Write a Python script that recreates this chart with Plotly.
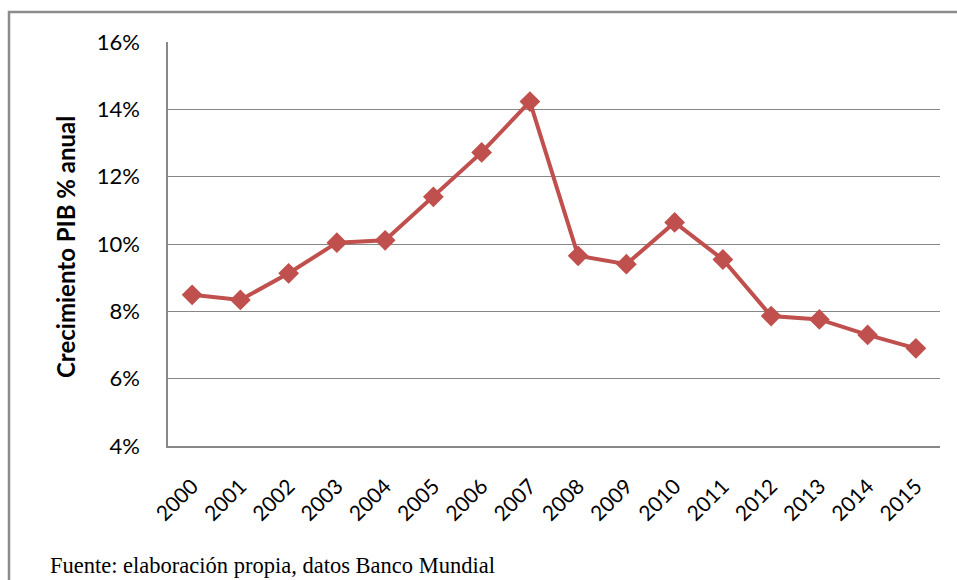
import plotly.graph_objects as go

years = [str(y) for y in range(2000, 2016)]
growth = [8.49, 8.34, 9.13, 10.04, 10.11, 11.40, 12.72, 14.23, 9.65, 9.40, 10.64, 9.54, 7.86, 7.76, 7.30, 6.90]
y_ticks = [4, 6, 8, 10, 12, 14, 16]
y_tick_labels = [f"{v}%" for v in y_ticks]

W, H = 957, 580
L, R, T, B = 168, 940, 42, 446

def px(x):
    return (x - L) / (R - L)

def py(y):
    return (B - y) / (B - T)

fig = go.Figure()
fig.add_trace(go.Scatter(
    x=years, y=growth, mode="lines+markers",
    line=dict(color="#C0504D", width=4),
    marker=dict(symbol="diamond", size=16, color="#C0504D"),
    showlegend=False, hoverinfo="x+y",
))

grid = "#878787"
fig.update_layout(
    width=W, height=H,
    margin=dict(l=L, r=W - R, t=T, b=H - B, pad=0),
    paper_bgcolor="white", plot_bgcolor="white",
    font=dict(family="Lato", size=22, color="black"),
    xaxis=dict(
        type="category", tickangle=-45, showgrid=False,
        showline=True, linecolor=grid, linewidth=1.5,
        ticks="", ticklabelstandoff=18, tickfont=dict(family="Lato", size=21),
        range=[-0.5, len(years) - 0.5],
    ),
    yaxis=dict(
        range=[4, 16], tickvals=y_ticks, ticktext=y_tick_labels,
        showgrid=True, gridcolor=grid, gridwidth=1,
        showline=True, linecolor=grid, linewidth=1.5,
        ticks="", ticklabelstandoff=22, tickfont=dict(family="Lato", size=22),
        zeroline=False,
    ),
    shapes=[dict(
        type="path", xref="paper", yref="paper",
        path=f"M {px(9)} {py(600)} L {px(9)} {py(12)} L {px(970)} {py(12)}",
        line=dict(color="#8c8c8c", width=2.5),
    )],
    annotations=[
        dict(text="<b>Crecimiento PIB % anual</b>", textangle=-90,
             xref="paper", yref="paper", x=px(65), y=py(247),
             xanchor="center", yanchor="middle", showarrow=False,
             font=dict(family="Lato", size=24, color="black")),
        dict(text="Fuente: elaboración propia, datos Banco Mundial",
             xref="paper", yref="paper", x=px(48), y=py(580),
             xanchor="left", yanchor="bottom", showarrow=False,
             font=dict(family="Liberation Serif", size=22.5, color="black")),
    ],
)

fig.write_html("out.html", config={"displayModeBar": False},
               post_script="document.body.style.margin='0';document.body.style.overflow='hidden';")
